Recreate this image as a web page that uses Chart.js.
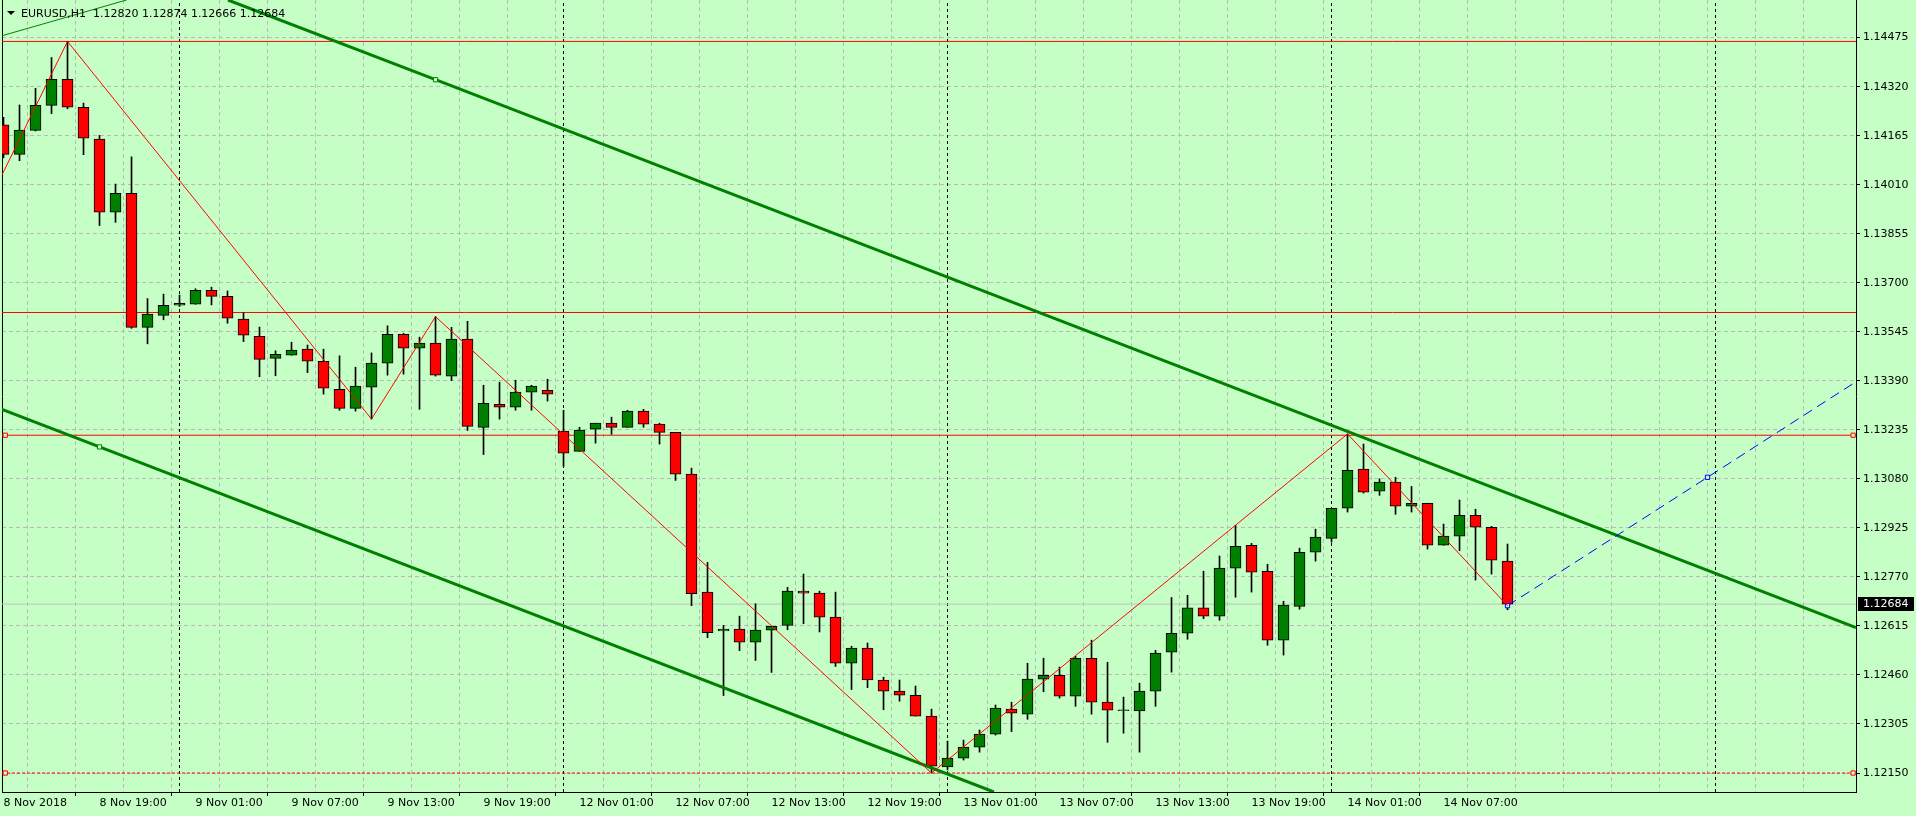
<!DOCTYPE html>
<html>
<head>
<meta charset="utf-8">
<title>EURUSD,H1</title>
<script src="https://cdn.jsdelivr.net/npm/chart.js@4.4.1/dist/chart.umd.min.js"></script>
<style>
  html, body { margin: 0; padding: 0; background: #c6ffc6; }
  canvas { display: block; }
</style>
</head>
<body>
<canvas id="chart" width="1916" height="816"></canvas>
<script>
// EURUSD H1, 8 Nov 13:00 .. 14 Nov 11:00 (bar index = hour since first bar, weekend skipped)
const symbol = "EURUSD,H1";

const timeLabels = [
  "8 Nov 2018", "8 Nov 19:00", "9 Nov 01:00", "9 Nov 07:00", "9 Nov 13:00", "9 Nov 19:00",
  "12 Nov 01:00", "12 Nov 07:00", "12 Nov 13:00", "12 Nov 19:00", "13 Nov 01:00",
  "13 Nov 07:00", "13 Nov 13:00", "13 Nov 19:00", "14 Nov 01:00", "14 Nov 07:00"
];
const dayStarts = [11, 35, 59, 83, 107];

const priceTicks = [
  1.12150, 1.12305, 1.12460, 1.12615, 1.12770, 1.12925, 1.13080, 1.13235,
  1.13390, 1.13545, 1.13700, 1.13855, 1.14010, 1.14165, 1.14320, 1.14475
];

const opens = [
  1.14199, 1.14106, 1.14182, 1.14261, 1.14343, 1.14255, 1.14154, 1.13923, 1.13983, 1.13559,
  1.13597, 1.13629, 1.13632, 1.13676, 1.13657, 1.13585, 1.13531, 1.13461, 1.13471, 1.13490,
  1.13452, 1.13363, 1.13303, 1.13370, 1.13446, 1.13537, 1.13493, 1.13509, 1.13405, 1.13522,
  1.13243, 1.13316, 1.13307, 1.13354, 1.13360, 1.13231, 1.13167, 1.13237, 1.13256, 1.13243,
  1.13294, 1.13253, 1.13227, 1.13095, 1.12722, 1.12599, 1.12605, 1.12564, 1.12602, 1.12617,
  1.12725, 1.12719, 1.12643, 1.12497, 1.12545, 1.12444, 1.12409, 1.12396, 1.12330, 1.12169,
  1.12197, 1.12232, 1.12273, 1.12352, 1.12336, 1.12447, 1.12459, 1.12393, 1.12513, 1.12374,
  1.12347, 1.12346, 1.12409, 1.12532, 1.12592, 1.12672, 1.12646, 1.12798, 1.12870, 1.12788,
  1.12570, 1.12677, 1.12848, 1.12892, 1.12987, 1.13111, 1.13041, 1.13070, 1.12994, 1.13003,
  1.12870, 1.12899, 1.12965, 1.12927, 1.12820
];
const highs = [
  1.14223, 1.14262, 1.14315, 1.14412, 1.14463, 1.14268, 1.14166, 1.14012, 1.14098, 1.13650,
  1.13664, 1.13661, 1.13681, 1.13686, 1.13674, 1.13605, 1.13560, 1.13485, 1.13512, 1.13503,
  1.13490, 1.13469, 1.13433, 1.13478, 1.13564, 1.13540, 1.13528, 1.13593, 1.13559, 1.13578,
  1.13376, 1.13386, 1.13392, 1.13376, 1.13395, 1.13297, 1.13243, 1.13256, 1.13275, 1.13297,
  1.13300, 1.13256, 1.13227, 1.13114, 1.12816, 1.12617, 1.12646, 1.12685, 1.12614, 1.12737,
  1.12779, 1.12725, 1.12722, 1.12551, 1.12561, 1.12453, 1.12444, 1.12425, 1.12352, 1.12251,
  1.12254, 1.12286, 1.12365, 1.12374, 1.12497, 1.12513, 1.12485, 1.12519, 1.12570, 1.12500,
  1.12390, 1.12434, 1.12538, 1.12705, 1.12712, 1.12788, 1.12836, 1.12933, 1.12876, 1.12810,
  1.12693, 1.12861, 1.12921, 1.12987, 1.13222, 1.13190, 1.13080, 1.13085, 1.13056, 1.13003,
  1.12937, 1.13013, 1.12984, 1.12930, 1.12874
];
const lows = [
  1.14095, 1.14086, 1.14180, 1.14235, 1.14250, 1.14105, 1.13881, 1.13891, 1.13556, 1.13507,
  1.13583, 1.13625, 1.13632, 1.13630, 1.13572, 1.13514, 1.13403, 1.13406, 1.13471, 1.13416,
  1.13348, 1.13297, 1.13294, 1.13269, 1.13408, 1.13411, 1.13300, 1.13405, 1.13391, 1.13233,
  1.13157, 1.13269, 1.13297, 1.13297, 1.13326, 1.13120, 1.13167, 1.13193, 1.13221, 1.13243,
  1.13243, 1.13190, 1.13075, 1.12679, 1.12578, 1.12395, 1.12537, 1.12506, 1.12468, 1.12603,
  1.12622, 1.12596, 1.12487, 1.12414, 1.12420, 1.12350, 1.12377, 1.12330, 1.12150, 1.12160,
  1.12191, 1.12216, 1.12270, 1.12281, 1.12320, 1.12407, 1.12387, 1.12361, 1.12336, 1.12247,
  1.12276, 1.12216, 1.12361, 1.12469, 1.12573, 1.12638, 1.12633, 1.12706, 1.12722, 1.12554,
  1.12523, 1.12668, 1.12820, 1.12880, 1.12975, 1.13035, 1.13028, 1.12968, 1.12975, 1.12858,
  1.12870, 1.12853, 1.12760, 1.12779, 1.12666
];
const closes = [
  1.14106, 1.14183, 1.14261, 1.14343, 1.14255, 1.14157, 1.13923, 1.13983, 1.13559, 1.13601,
  1.13629, 1.13635, 1.13676, 1.13657, 1.13588, 1.13534, 1.13458, 1.13474, 1.13487, 1.13452,
  1.13367, 1.13303, 1.13373, 1.13446, 1.13537, 1.13493, 1.13509, 1.13408, 1.13522, 1.13246,
  1.13319, 1.13307, 1.13354, 1.13373, 1.13348, 1.13161, 1.13234, 1.13256, 1.13243, 1.13294,
  1.13253, 1.13227, 1.13095, 1.12717, 1.12594, 1.12605, 1.12564, 1.12602, 1.12614, 1.12725,
  1.12719, 1.12643, 1.12497, 1.12545, 1.12444, 1.12409, 1.12396, 1.12330, 1.12172, 1.12197,
  1.12232, 1.12273, 1.12355, 1.12339, 1.12447, 1.12459, 1.12393, 1.12513, 1.12374, 1.12349,
  1.12347, 1.12409, 1.12529, 1.12592, 1.12672, 1.12646, 1.12798, 1.12867, 1.12785, 1.12570,
  1.12681, 1.12848, 1.12896, 1.12987, 1.13107, 1.13038, 1.13070, 1.12994, 1.13003, 1.12870,
  1.12899, 1.12965, 1.12927, 1.12823, 1.12684
];

// drawn objects (bar index, price)
const zigzagBars = [-0.094, 4, 23, 27, 58, 84, 94];
const zigzagPrices = [1.14041, 1.14463, 1.13269, 1.13593, 1.12150, 1.13222, 1.12679];

const upperChannelBars = [14.03, 27, 115.78];
const upperChannelPrices = [1.14594, 1.14342, 1.12610];
const lowerChannelBars = [-0.094, 6, 61.9];
const lowerChannelPrices = [1.13300, 1.13181, 1.12090];
const thinTrendBars = [-0.094, 7.69];
const thinTrendPrices = [1.14481, 1.14594];

const projectionBars = [94, 106.5, 115.78];
const projectionPrices = [1.12679, 1.13085, 1.13387];

const levelPrices = [1.14463, 1.13606, 1.13218];
const supportPrice = 1.12150;
const levelMarkerBars = [0.11, 115.6];

const xMin = -0.094, xMax = 115.78;
const yMin = 1.12090, yMax = 1.14594;

const bg = "#c6ffc6";
const gridColor = "rgb(185,185,185)";
const bullColor = "#008000";
const bearColor = "#ff0000";
const fontFamily = "'DejaVu Sans', Verdana, sans-serif";
const last = closes.length - 1;

Chart.defaults.font.family = fontFamily;
Chart.defaults.font.size = 11;
Chart.defaults.color = "#000";

const idx = opens.map((o, i) => i);

function pts(xs, ys) {
  return xs.map((x, i) => ({ x: x, y: ys[i] }));
}

function lineSet(data, color, width, order, extra) {
  return Object.assign({
    type: "line",
    data: data,
    borderColor: color,
    borderWidth: width,
    pointRadius: 0,
    pointStyle: "rect",
    pointBorderColor: color,
    pointBackgroundColor: bg,
    pointBorderWidth: 1,
    tension: 0,
    fill: false,
    clip: 0,
    order: order
  }, extra || {});
}

const separatorData = [];
dayStarts.forEach(d => {
  separatorData.push({ x: d, y: yMin }, { x: d, y: yMax }, { x: d, y: null });
});

const datasets = [
  lineSet(pts(zigzagBars, zigzagPrices), "#ff0000", 1, 0),
  lineSet(pts(projectionBars, projectionPrices), "#0000ff", 1, 0, {
    borderDash: [10, 6],
    pointRadius: [3, 3, 0]
  }),
  lineSet(pts(upperChannelBars, upperChannelPrices), "#008000", 3, 1, { pointRadius: [0, 3, 0] }),
  lineSet(pts(lowerChannelBars, lowerChannelPrices), "#008000", 3, 1, { pointRadius: [0, 3, 0] }),
  lineSet(pts(thinTrendBars, thinTrendPrices), "#008000", 1, 1),
  {
    type: "bar",
    data: idx.map(i => ({ x: i, y: [opens[i], closes[i]] })),
    backgroundColor: idx.map(i => closes[i] >= opens[i] ? bullColor : bearColor),
    borderColor: "#000",
    borderWidth: 1,
    borderSkipped: false,
    barThickness: 11,
    minBarLength: 1,
    grouped: false,
    order: 2
  },
  {
    type: "bar",
    data: idx.map(i => ({ x: i, y: [lows[i], highs[i]] })),
    backgroundColor: "#000",
    borderWidth: 0,
    barThickness: 1,
    grouped: false,
    order: 3
  },
  lineSet(pts([xMin, xMax], [levelPrices[0], levelPrices[0]]), "#ff0000", 1, 4),
  lineSet(pts([xMin, xMax], [levelPrices[1], levelPrices[1]]), "#ff0000", 1, 4),
  lineSet(pts([xMin, levelMarkerBars[0], levelMarkerBars[1], xMax],
    [levelPrices[2], levelPrices[2], levelPrices[2], levelPrices[2]]), "#ff0000", 1, 4, {
    pointRadius: [0, 3, 3, 0]
  }),
  lineSet(pts([xMin, levelMarkerBars[0], levelMarkerBars[1], xMax],
    [supportPrice, supportPrice, supportPrice, supportPrice]), "#ff0000", 1, 4, {
    borderDash: [3, 2],
    pointRadius: [0, 3, 3, 0]
  }),
  lineSet(pts([xMin, xMax], [closes[last], closes[last]]), "rgb(192,192,192)", 1, 5),
  lineSet(separatorData, "#000", 1, 6, { borderDash: [3, 3], spanGaps: false })
];

const xTickValues = [];
for (let v = 0; v <= xMax; v += 3) xTickValues.push(v);

function labelAt(v) {
  return v % 6 === 0 && timeLabels[v / 6] ? timeLabels[v / 6] : "";
}

// no label overhang padding: the plot runs edge to edge like the terminal
function noPadding(s) {
  s.paddingTop = 0;
  s.paddingBottom = 0;
  s.paddingLeft = 0;
  s.paddingRight = 0;
}

// header text and bid price box
const overlay = {
  id: "overlay",
  afterDraw(chart) {
    const ctx = chart.ctx;
    const area = chart.chartArea;
    const y = Math.round(chart.scales.y.getPixelForValue(closes[last]));
    ctx.save();
    ctx.fillStyle = "#000";
    ctx.fillRect(area.right + 2, y - 7, chart.width - area.right - 4, 14);
    ctx.fillStyle = "#ffffff";
    ctx.font = "11px " + fontFamily;
    ctx.textBaseline = "middle";
    ctx.fillText(closes[last].toFixed(5), area.right + 7, y + 0.5);

    ctx.fillStyle = "#000";
    ctx.beginPath();
    ctx.moveTo(7, 11);
    ctx.lineTo(15, 11);
    ctx.lineTo(11, 15);
    ctx.closePath();
    ctx.fill();
    ctx.textBaseline = "alphabetic";
    const ohlc = [opens[last], highs[last], lows[last], closes[last]].map(v => v.toFixed(5));
    ctx.fillText(symbol + "  " + ohlc.join(" "), 21, 17);
    ctx.restore();
  }
};

new Chart(document.getElementById("chart"), {
  type: "bar",
  data: { datasets: datasets },
  options: {
    responsive: false,
    animation: false,
    devicePixelRatio: 1,
    events: [],
    layout: { padding: 0, autoPadding: false },
    plugins: {
      legend: { display: false },
      tooltip: { enabled: false },
      title: { display: false }
    },
    scales: {
      x: {
        type: "linear",
        position: "bottom",
        min: xMin,
        max: xMax,
        offset: false,
        afterBuildTicks: s => { s.ticks = xTickValues.map(v => ({ value: v })); },
        afterFit: s => { s.height = 24; noPadding(s); },
        ticks: {
          autoSkip: false,
          maxRotation: 0,
          align: "start",
          padding: 1,
          color: "#000",
          callback: v => labelAt(v)
        },
        grid: {
          color: c => (c.tick && c.tick.value > 0 ? gridColor : "rgba(0,0,0,0)"),
          tickColor: c => (c.tick && labelAt(c.tick.value) ? "#000" : "rgba(0,0,0,0)"),
          tickLength: 4,
          lineWidth: 1
        },
        border: { display: true, color: "#000", width: 1, dash: [4, 3] }
      },
      y: {
        type: "linear",
        position: "right",
        min: yMin,
        max: yMax,
        afterBuildTicks: s => { s.ticks = priceTicks.map(v => ({ value: v })); },
        afterFit: s => { s.width = 60; noPadding(s); },
        ticks: {
          autoSkip: false,
          padding: 3,
          color: "#000",
          callback: v => v.toFixed(5)
        },
        grid: {
          color: gridColor,
          tickColor: "#000",
          tickLength: 4,
          lineWidth: 1
        },
        border: { display: true, color: "#000", width: 1, dash: [4, 3] }
      },
      yl: {
        type: "linear",
        position: "left",
        min: 0,
        max: 1,
        ticks: { display: false },
        grid: { display: false, drawTicks: false },
        border: { display: true, color: "#000", width: 1 },
        afterFit: s => { s.width = 2; noPadding(s); }
      }
    }
  },
  plugins: [overlay]
});
</script>
</body>
</html>
